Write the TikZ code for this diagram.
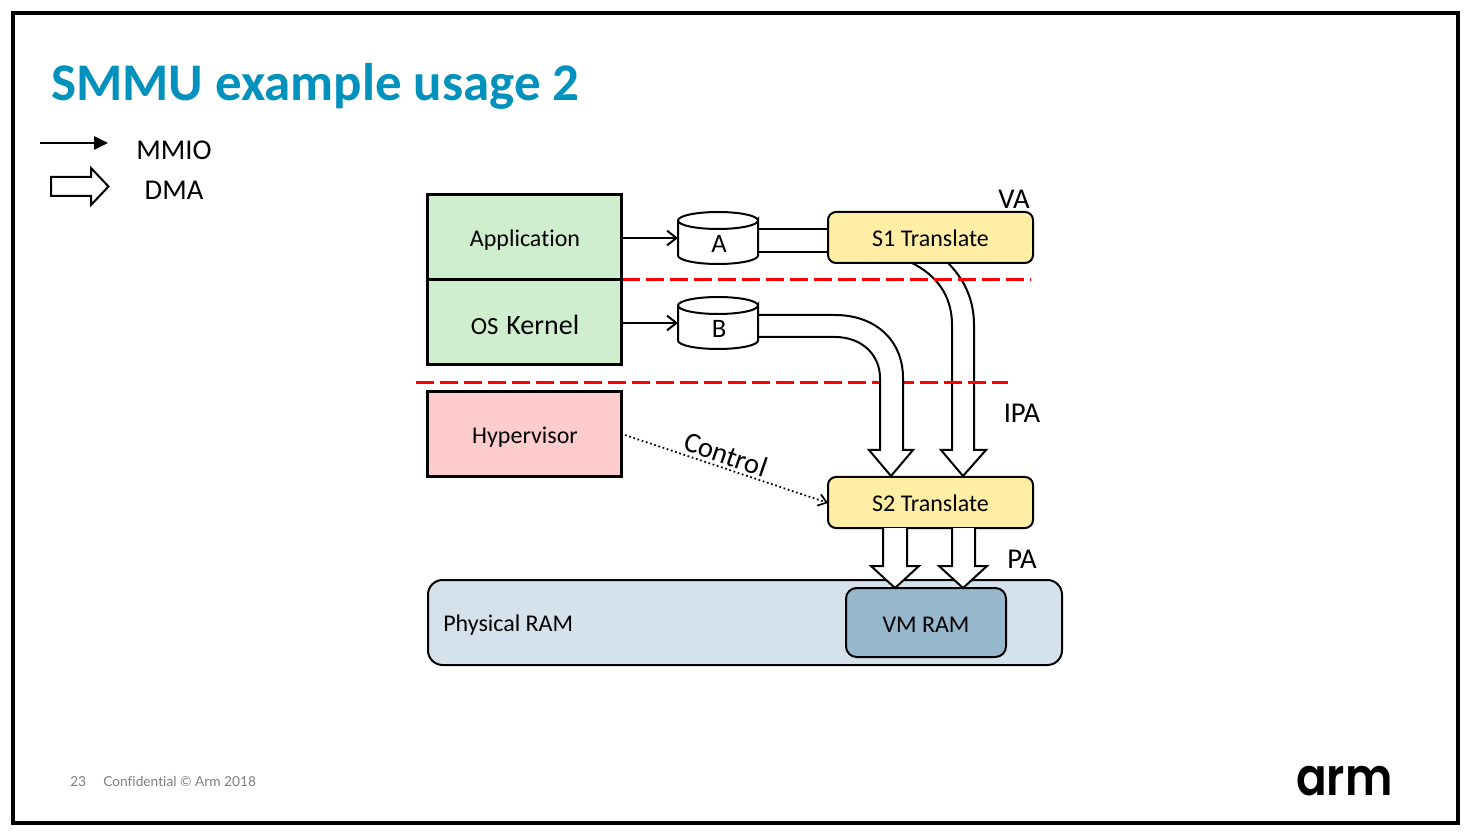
\documentclass[tikz,border=0pt]{standalone}
\usepackage{fontspec}
\setmainfont{Carlito}[Ligatures=NoCommon]
\newfontfamily\footfont{Lato}[Ligatures=NoCommon]
\newfontfamily\logofont{Poppins}[UprightFont=* SemiBold]
\usetikzlibrary{arrows.meta,calc,shapes.geometric}
\definecolor{armblue}{HTML}{0091BD}
\definecolor{appgreen}{HTML}{CEEECE}
\definecolor{hyppink}{HTML}{FFCCCC}
\definecolor{xlyellow}{HTML}{FFEEA3}
\definecolor{ramlight}{HTML}{D5E2EC}
\definecolor{ramdark}{HTML}{97B8CC}
\definecolor{footgrey}{HTML}{7F7F7F}
\tikzset{
  x=0.75pt,y=-0.75pt,
  swbox/.style={draw=black,line width=2.25pt,minimum width=145.5pt,minimum height=63.75pt,inner sep=0pt},
  boxtext/.style={font=\fontsize{18}{21}\selectfont,inner sep=0pt},
  xlate/.style={draw=black,line width=1.5pt,rounded corners=6pt,fill=xlyellow,minimum width=153.75pt,minimum height=38.25pt,inner sep=0pt},
  fatpipe/.style={draw=black,line width=1.5pt,fill=white,line join=miter},
  pipeedge/.style={draw=black,line width=1.5pt},
  mmio/.style={draw=black,line width=1.5pt,-{Straight Barb[length=7pt,width=11pt,line width=1.5pt]}},
  levelline/.style={draw=red,line width=2.25pt,dash pattern=on 13.5pt off 4.5pt},
  label/.style={font=\fontsize{21.5}{25}\selectfont,inner sep=0pt},
  queue/.style={draw=black,line width=1.5pt,fill=white}
}
\begin{document}
\begin{tikzpicture}
\useasboundingbox (0,0) rectangle (1474,837);
\fill[white] (0,0) rectangle (1474,837);
% slide frame
\draw[black,line width=2.6pt] (13,13) rectangle (1458,823);

\node[anchor=base west,inner sep=0pt,text=armblue,font=\fontsize{39.7}{42}\selectfont\bfseries] (title) at (51,101) {SMMU example usage 2};

% legend
\coordinate (mmioA) at (40,143);
\coordinate (mmioB) at (108,143);
\draw[line width=1.5pt,-{Triangle[length=10.5pt,width=10pt]}] (mmioA) -- (mmioB);
\node[label] (mmiolabel) at (174,150) {MMIO};
\draw[fatpipe] (51,177) -- (91,177) -- (91,168) -- (108.5,186.5) -- (91,205) -- (91,196) -- (51,196) -- cycle;
\node[label] (dmalabel) at (174,190) {DMA};

% physical memory
\node[draw=black,line width=1.5pt,rounded corners=11pt,fill=ramlight,minimum width=475.5pt,minimum height=63.75pt,inner sep=0pt] (ram) at (745,622.5) {};
\node[anchor=west,boxtext] (ramlabel) at (443,625) {Physical RAM};
\node[draw=black,line width=1.5pt,rounded corners=8pt,fill=ramdark,minimum width=120pt,minimum height=51.75pt,inner sep=0pt] (vmram) at (926,622.5) {};
\node[boxtext] (vmlabel) at (926,625) {VM RAM};

% stage 1 DMA path, below the level lines
\draw[fatpipe] (912,263) .. controls (936,275) and (952,295) .. (952,325) -- (952,450) -- (941,450) -- (963,476) -- (986,450) -- (974,450) -- (974,325) .. controls (974,298) and (963,278) .. (948,263);

% privilege level boundaries
\draw[levelline] (622,279.5) -- (1031,279.5);
\draw[levelline] (416,382.5) -- (1008,382.5);

% stage 2 DMA path from queue B
\draw[fatpipe] (758,315) -- (835,315) .. controls (875,315) and (903,340) .. (903,378) -- (903,450) -- (913,450) -- (891,476) -- (869,450) -- (880,450) -- (880,378) .. controls (880,355) and (862,337) .. (835,337) -- (758,337);

% software levels
\node[swbox,fill=appgreen] (app) at (524.5,237) {};
\node[boxtext] (applabel) at (525,240.5) {Application};
\node[swbox,fill=appgreen] (kernel) at (524.5,322) {};
\node[inner sep=0pt] (kernellabel) at (525,324.5) {{\fontsize{18.5}{20}\selectfont OS}\hspace{6pt}{\fontsize{21}{24}\selectfont Kernel}};
\node[swbox,fill=hyppink] (hyp) at (524.5,434) {};
\node[boxtext] (hyplabel) at (525,437.5) {Hypervisor};

% translation stages
\node[xlate] (s1) at (930.5,237.5) {};
\node[boxtext] (s1label) at (930.5,238.5) {S1 Translate};
\node[xlate] (s2) at (930.5,502.5) {};
\node[boxtext] (s2label) at (930.5,503.5) {S2 Translate};

% command queues
\draw[pipeedge] (758,229) -- (828,229) (758,252) -- (828,252);
\foreach \nm/\cy/\txt in {qa/212/A,qb/297/B}{
  \draw[queue] (678,\cy+8.5) -- (678,\cy+43.5) arc[start angle=180,end angle=0,x radius=40,y radius=8.5] -- (758,\cy+8.5) arc[start angle=0,end angle=360,x radius=40,y radius=8.5];
  \node[inner sep=0pt,font=\fontsize{20}{24}\selectfont] (\nm) at (719,\cy+32) {\txt};
}
\coordinate (qaw) at (678,238);
\coordinate (qbw) at (678,323);
\draw[mmio] (app.east |- qaw) -- (qaw);
\draw[mmio] (kernel.east |- qbw) -- (qbw);

% DMA out of stage 2
\draw[fatpipe] (883,528) -- (883,566) -- (871,566) -- (895,588) -- (919,566) -- (907,566) -- (907,528);
\draw[fatpipe] (952,528) -- (952,566) -- (939,566) -- (963,588) -- (987,566) -- (975,566) -- (975,528);

% hypervisor control of stage 2
\coordinate (ctlA) at (625,435);
\coordinate (ctlB) at (828,503);
\draw[line width=1.3pt,dotted,-{Straight Barb[length=6pt,width=9pt,line width=1.3pt]}] (ctlA) -- (ctlB);
\node[label,rotate=-19] (ctl) at (726,454) {Control};

% address space names
\node[label] (va) at (1014,199.5) {VA};
\node[label] (ipa) at (1022,413.5) {IPA};
\node[label] (pa) at (1022,559.5) {PA};

% footer
\node[anchor=base west,inner sep=0pt,text=footgrey,font=\footfont\fontsize{10.3}{12}\selectfont] (pg) at (70,786) {23};
\node[anchor=base west,inner sep=0pt,text=footgrey,font=\footfont\fontsize{10.3}{12}\selectfont] (conf) at (103,786) {Confidential © Arm 2018};
\node[anchor=base west,inner sep=0pt,xscale=0.87,font=\logofont\fontsize{39}{40}\selectfont] (logo) at (1296,795) {arm};
\end{tikzpicture}
\end{document}
